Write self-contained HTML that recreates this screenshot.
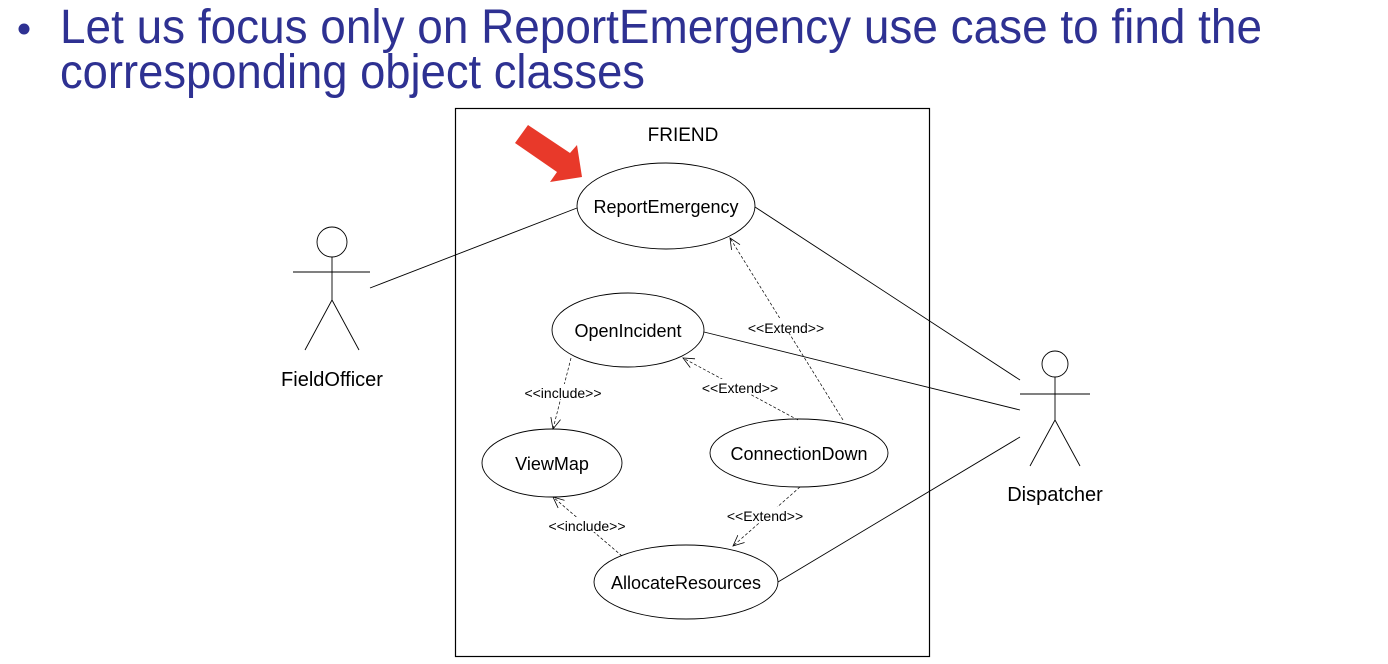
<!DOCTYPE html>
<html><head><meta charset="utf-8"><style>
html,body{margin:0;padding:0;background:#fff;width:1388px;height:664px;overflow:hidden}
svg text{font-family:"Liberation Sans",sans-serif}
</style></head><body>
<svg width="1388" height="664" viewBox="0 0 1388 664" xmlns="http://www.w3.org/2000/svg">
<defs>
<marker id="oa" viewBox="0 0 12 12" refX="11" refY="6" markerWidth="12" markerHeight="12" markerUnits="userSpaceOnUse" orient="auto">
<path d="M0,1 L11,6 L0,11" fill="none" stroke="#000" stroke-width="0.8"/>
</marker>
</defs>
<circle cx="24" cy="29" r="5.5" fill="#2e3192"/>
<text x="60" y="43" font-size="48" fill="#2e3192" textLength="1202" lengthAdjust="spacingAndGlyphs">Let us focus only on ReportEmergency use case to find the</text>
<text x="60" y="88" font-size="48" fill="#2e3192" textLength="585" lengthAdjust="spacingAndGlyphs">corresponding object classes</text>

<rect x="455.5" y="108.5" width="474" height="548" fill="none" stroke="#000" stroke-width="1.2"/>
<text x="683" y="141" font-size="19" text-anchor="middle">FRIEND</text>

<polygon points="515,143 528,125 570,153 577,145 582,177 550,182 557,172" fill="#e8392a"/>

<g fill="none" stroke="#000" stroke-width="0.9">
<ellipse cx="666" cy="206" rx="89" ry="43"/>
<ellipse cx="628" cy="330" rx="76" ry="37"/>
<ellipse cx="552" cy="463" rx="70" ry="34"/>
<ellipse cx="799" cy="453" rx="89" ry="34"/>
<ellipse cx="686" cy="582" rx="92" ry="37"/>
<line x1="370" y1="288" x2="577" y2="208"/>
<line x1="755" y1="207" x2="1020" y2="380"/>
<line x1="704" y1="332" x2="1020" y2="410"/>
<line x1="778" y1="582" x2="1020" y2="437"/>
<circle cx="332" cy="242" r="15"/>
<line x1="332" y1="257" x2="332" y2="300"/>
<line x1="293" y1="272" x2="370" y2="272"/>
<line x1="332" y1="300" x2="305" y2="350"/>
<line x1="332" y1="300" x2="359" y2="350"/>
<circle cx="1055" cy="364" r="13"/>
<line x1="1055" y1="377" x2="1055" y2="420"/>
<line x1="1020" y1="394" x2="1090" y2="394"/>
<line x1="1055" y1="420" x2="1030" y2="466"/>
<line x1="1055" y1="420" x2="1080" y2="466"/>
</g>
<g fill="none" stroke="#000" stroke-width="0.7" stroke-dasharray="3,2">
<line x1="571" y1="358" x2="553" y2="429" marker-end="url(#oa)"/>
<line x1="843" y1="420" x2="730" y2="238" marker-end="url(#oa)"/>
<line x1="798" y1="420" x2="683" y2="358" marker-end="url(#oa)"/>
<line x1="800" y1="487" x2="733" y2="546" marker-end="url(#oa)"/>
<line x1="622" y1="556" x2="553" y2="497" marker-end="url(#oa)"/>
</g>
<g font-size="14" text-anchor="middle">
<rect x="740" y="318" width="92" height="15" fill="#fff"/>
<text x="786" y="333">&lt;&lt;Extend&gt;&gt;</text>
<rect x="518" y="384" width="90" height="15" fill="#fff"/>
<text x="563" y="398">&lt;&lt;include&gt;&gt;</text>
<rect x="694" y="379" width="92" height="15" fill="#fff"/>
<text x="740" y="393">&lt;&lt;Extend&gt;&gt;</text>
<rect x="719" y="507" width="92" height="15" fill="#fff"/>
<text x="765" y="521">&lt;&lt;Extend&gt;&gt;</text>
<rect x="542" y="517" width="90" height="15" fill="#fff"/>
<text x="587" y="531">&lt;&lt;include&gt;&gt;</text>
</g>
<g font-size="18" text-anchor="middle">
<text x="666" y="213">ReportEmergency</text>
<text x="628" y="337">OpenIncident</text>
<text x="552" y="470">ViewMap</text>
<text x="799" y="460">ConnectionDown</text>
<text x="686" y="589">AllocateResources</text>
<text x="332" y="386" font-size="20">FieldOfficer</text>
<text x="1055" y="501" font-size="20">Dispatcher</text>
</g>
</svg>
</body></html>
